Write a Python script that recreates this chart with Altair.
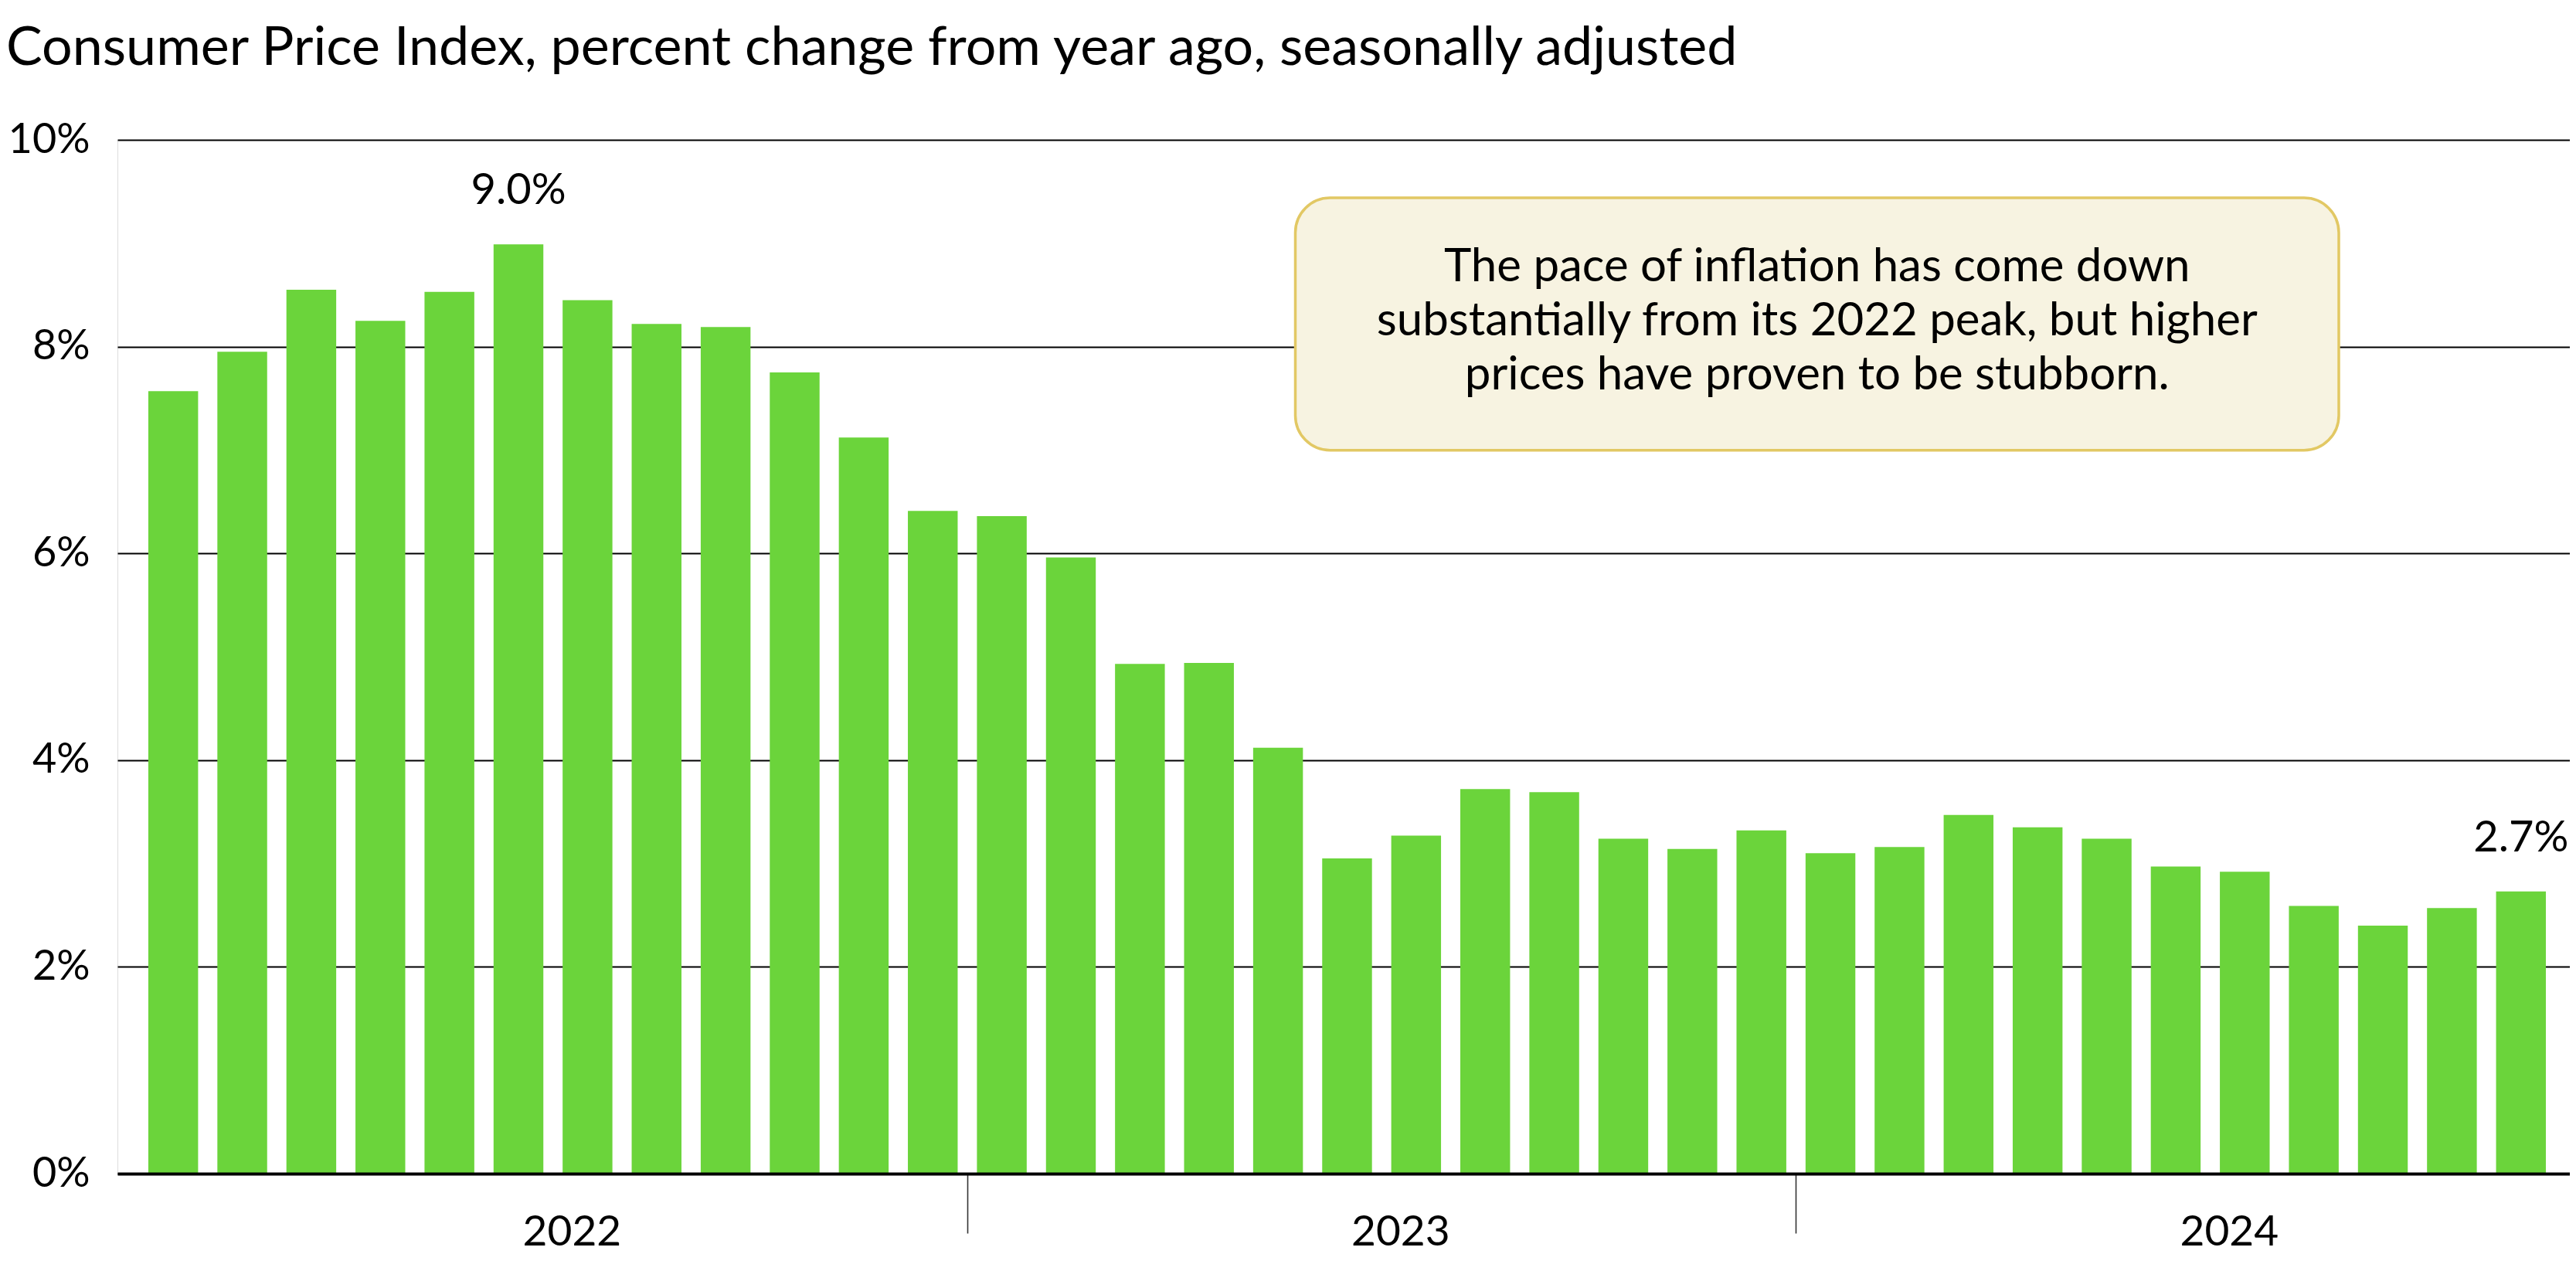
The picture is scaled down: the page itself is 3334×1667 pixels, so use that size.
import altair as alt
import pandas as pd

# ---- data ----
months = [
    "Jan 2022", "Feb 2022", "Mar 2022", "Apr 2022", "May 2022", "Jun 2022",
    "Jul 2022", "Aug 2022", "Sep 2022", "Oct 2022", "Nov 2022", "Dec 2022",
    "Jan 2023", "Feb 2023", "Mar 2023", "Apr 2023", "May 2023", "Jun 2023",
    "Jul 2023", "Aug 2023", "Sep 2023", "Oct 2023", "Nov 2023", "Dec 2023",
    "Jan 2024", "Feb 2024", "Mar 2024", "Apr 2024", "May 2024", "Jun 2024",
    "Jul 2024", "Aug 2024", "Sep 2024", "Oct 2024", "Nov 2024",
]
cpi = [
    7.57, 7.95, 8.55, 8.25, 8.53, 8.99, 8.45, 8.22, 8.19, 7.75, 7.12, 6.41,
    6.36, 5.96, 4.93, 4.94, 4.12, 3.05, 3.27, 3.72, 3.69, 3.24, 3.14, 3.32,
    3.10, 3.16, 3.47, 3.35, 3.24, 2.97, 2.92, 2.59, 2.40, 2.57, 2.73,
]
labeled_months = ["Jun 2022", "Nov 2024"]
year_labels = ["2022", "2023", "2024"]
year_label_months = ["Jul 2022", "Jul 2023", "Jul 2024"]
year_starts = ["Jan 2023", "Jan 2024"]
y_ticks = [0, 2, 4, 6, 8, 10]
title_text = "Consumer Price Index, percent change from year ago, seasonally adjusted"
note_lines = [
    "The pace of inflation has come down",
    "substantially from its 2022 peak, but higher",
    "prices have proven to be stubborn.",
]

df = pd.DataFrame({"month": months, "cpi": cpi})
years_df = pd.DataFrame({"month": year_label_months, "year": year_labels})
note_df = pd.DataFrame({"k": [0]})

# ---- layout / style ----
W, H = 3174, 1338
FONT = "Lato"
GREEN = "#6BD43B"

xscale = alt.Scale(domain=months, paddingInner=0.279, paddingOuter=0.397, align=0.563)

bars = alt.Chart(df).mark_bar(color=GREEN).encode(
    x=alt.X(
        "month:N",
        scale=xscale,
        sort=None,
        axis=alt.Axis(
            values=year_starts,
            bandPosition=0,
            tickOffset=-12.45,
            labels=False,
            ticks=True,
            tickSize=77,
            tickWidth=1.6,
            tickColor="#333333",
            domain=True,
            domainColor="#000000",
            domainWidth=4,
            grid=False,
            title=None,
            zindex=1,
        ),
    ),
    y=alt.Y(
        "cpi:Q",
        scale=alt.Scale(domain=[0, 10], nice=False, zero=True),
        axis=alt.Axis(
            values=y_ticks,
            labelExpr="datum.value + '%'",
            grid=True,
            gridColor="#000000",
            gridWidth=2,
            domain=False,
            ticks=False,
            tickSize=0,
            labelPadding=36,
            labelFont=FONT,
            labelFontSize=54,
            labelColor="#000000",
            title=None,
            zindex=0,
        ),
    ),
)

value_labels = (
    alt.Chart(df)
    .transform_filter(alt.FieldOneOfPredicate(field="month", oneOf=labeled_months))
    .transform_calculate(lbl="format(datum.cpi, '.1f') + '%'")
    .mark_text(font=FONT, fontSize=56, color="#000000", baseline="alphabetic", dy=-52)
    .encode(
        x=alt.X("month:N", scale=xscale, sort=None),
        y=alt.Y("cpi:Q"),
        text="lbl:N",
    )
)

year_text = (
    alt.Chart(years_df)
    .mark_text(font=FONT, fontSize=55, color="#000000", baseline="alphabetic", dx=-20)
    .encode(
        x=alt.X("month:N", scale=xscale, sort=None),
        y=alt.value(H + 93),
        text="year:N",
    )
)

note_box = alt.Chart(note_df).mark_rect(
    fill="#F7F3E1", stroke="#E2C864", strokeWidth=3.5, cornerRadius=45
).encode(
    x=alt.value(1524.5), x2=alt.value(2875), y=alt.value(75), y2=alt.value(401.7)
)

note_text = alt.Chart(note_df).mark_text(
    text=note_lines, font=FONT, fontSize=60, color="#000000",
    align="center", baseline="alphabetic", lineHeight=70,
).encode(x=alt.value(2199.75), y=alt.value(183))

chart = (
    alt.layer(bars, value_labels, year_text, note_box, note_text)
    .properties(
        width=W,
        height=H,
        title=alt.TitleParams(
            title_text,
            anchor="start",
            frame="group",
            dx=-144,
            offset=0,
            font=FONT,
            fontSize=70,
            fontWeight="normal",
            color="#000000",
            baseline="alphabetic",
        ),
        autosize=alt.AutoSizeParams(type="none"),
        padding={"left": 144, "top": 173, "right": 0, "bottom": 140},
    )
    .configure_view(stroke=None)
    .configure(background="white")
)

chart.save("out.html", embed_options={"renderer": "svg", "actions": False})
